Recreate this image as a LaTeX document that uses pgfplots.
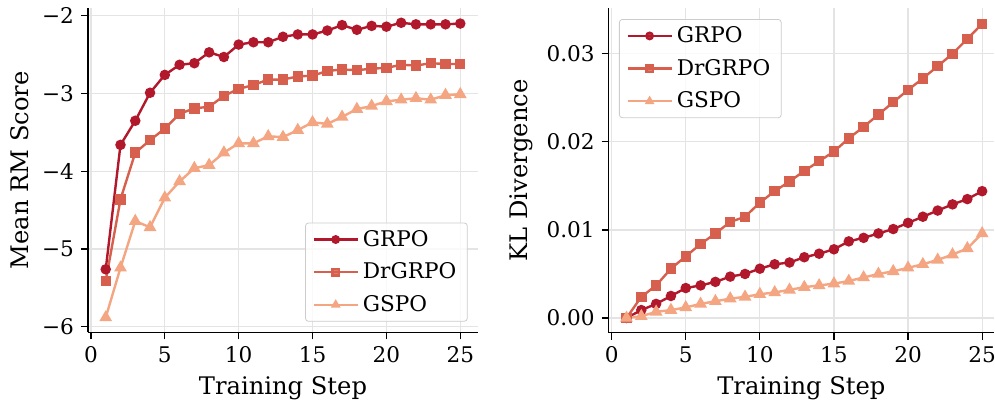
\documentclass[border=0pt]{standalone}
\usepackage{fontspec}
\setmainfont{DejaVu Serif}
\usepackage{pgfplots}
\pgfplotsset{compat=1.18}
\definecolor{cgrpo}{HTML}{B2182B}
\definecolor{cdr}{HTML}{D6604D}
\definecolor{cgspo}{HTML}{F4A582}
\definecolor{gridc}{HTML}{E4E4E4}

\pgfplotstableread{
step grpo dr gspo
1  -5.26 -5.41 -5.88
2  -3.66 -4.36 -5.24
3  -3.35 -3.76 -4.64
4  -2.99 -3.60 -4.72
5  -2.76 -3.45 -4.34
6  -2.63 -3.26 -4.13
7  -2.61 -3.19 -3.96
8  -2.47 -3.17 -3.92
9  -2.53 -3.03 -3.76
10 -2.37 -2.94 -3.64
11 -2.34 -2.89 -3.64
12 -2.34 -2.82 -3.55
13 -2.27 -2.82 -3.56
14 -2.24 -2.78 -3.47
15 -2.24 -2.77 -3.37
16 -2.19 -2.71 -3.39
17 -2.12 -2.69 -3.30
18 -2.18 -2.70 -3.20
19 -2.13 -2.68 -3.16
20 -2.14 -2.67 -3.10
21 -2.09 -2.63 -3.08
22 -2.11 -2.64 -3.06
23 -2.11 -2.61 -3.08
24 -2.11 -2.62 -3.02
25 -2.10 -2.62 -3.01
}\rmdata

\pgfplotstableread{
step grpo dr gspo
1  0.0000 0.0000 0.0000
2  0.0009 0.0024 0.0002
3  0.0016 0.0037 0.0007
4  0.0025 0.0056 0.0009
5  0.0034 0.0070 0.0012
6  0.0037 0.0084 0.0016
7  0.0041 0.0096 0.0019
8  0.0047 0.0109 0.0022
9  0.0050 0.0115 0.0024
10 0.0056 0.0131 0.0027
11 0.0061 0.0144 0.0029
12 0.0063 0.0155 0.0032
13 0.0069 0.0167 0.0035
14 0.0073 0.0178 0.0037
15 0.0078 0.0189 0.0039
16 0.0087 0.0204 0.0042
17 0.0091 0.0217 0.0046
18 0.0096 0.0231 0.0050
19 0.0101 0.0245 0.0053
20 0.0108 0.0259 0.0057
21 0.0115 0.0272 0.0061
22 0.0122 0.0286 0.0066
23 0.0129 0.0300 0.0072
24 0.0135 0.0317 0.0079
25 0.0144 0.0334 0.0096
}\kldata

\pgfplotsset{
  panel/.style={
    scale only axis,
    axis x line*=bottom, axis y line*=left,
    axis line style={-, line width=0.6pt},
    tick align=outside, major tick length=3.5pt,
    tick style={line width=0.6pt, black},
    grid=major, grid style={gridc, line width=0.6pt},
    xmin=-0.2, xtick={0,5,10,15,20,25},
    xticklabels={0,5,10,15,20,25},
    tick label style={font=\fontsize{10.8}{12}\selectfont},
    label style={font=\fontsize{12.1}{14}\selectfont},
    xlabel={Training Step},
    legend cell align=left,
    legend style={draw=black!20, rounded corners=1.5pt, fill=white, fill opacity=0.8, text opacity=1,
      font=\fontsize{10.8}{12}\selectfont, row sep=2.8pt, inner xsep=3.5pt, inner ysep=1.5pt},
    legend image code/.code={\draw[mark repeat=2,mark phase=2,mark size=1.6pt] plot coordinates {(0pt,0pt) (11pt,0pt) (22pt,0pt)};},
  },
  sgrpo/.style={cgrpo, line width=1.2pt, mark=*, mark size=2pt, mark options={solid}},
  sdr/.style={cdr, line width=1.2pt, mark=square*, mark size=2pt},
  sgspo/.style={cgspo, line width=1.2pt, mark=triangle*, mark size=2.5pt},
}

\begin{document}
\begin{tikzpicture}
\path[use as bounding box] (0,0) rectangle (497.5pt,201pt);

\begin{axis}[panel,
  at={(44pt,34.85pt)}, anchor=south west,
  width=195pt, height=162.15pt,
  xmax=26.2, ymin=-6.07, ymax=-1.9,
  ytick={-6,-5,-4,-3,-2},
  yticklabels={−6,−5,−4,−3,−2},
  ylabel={Mean RM Score},
  legend style={at={(0.9736,0.0327)}, anchor=south east},
]
\addplot[sgrpo] table[x=step,y=grpo] {\rmdata};
\addplot[sdr] table[x=step,y=dr] {\rmdata};
\addplot[sgspo] table[x=step,y=gspo] {\rmdata};
\legend{GRPO,DrGRPO,GSPO}
\end{axis}

\begin{axis}[panel,
  at={(304.35pt,34.65pt)}, anchor=south west,
  width=192.65pt, height=162.35pt,
  xmax=25.8, ymin=-0.00167, ymax=0.0352,
  scaled y ticks=false,
  ytick={0,0.01,0.02,0.03},
  yticklabels={0.00,0.01,0.02,0.03},
  ylabel={KL Divergence},
  legend style={at={(0.0267,0.966)}, anchor=north west},
]
\addplot[sgrpo] table[x=step,y=grpo] {\kldata};
\addplot[sdr] table[x=step,y=dr] {\kldata};
\addplot[sgspo] table[x=step,y=gspo] {\kldata};
\legend{GRPO,DrGRPO,GSPO}
\end{axis}
\end{tikzpicture}
\end{document}
